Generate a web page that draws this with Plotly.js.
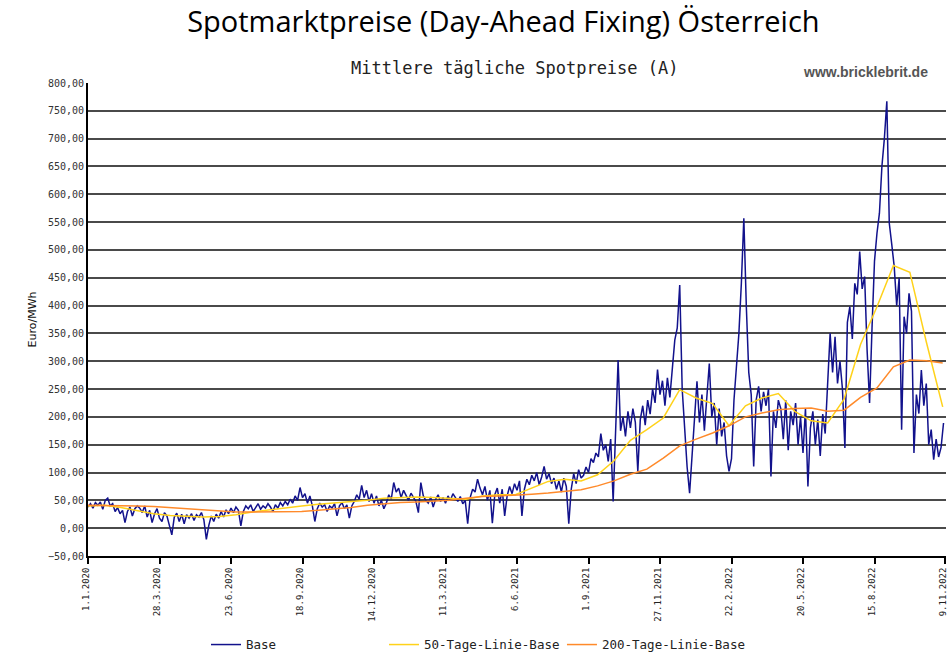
<!DOCTYPE html>
<html>
<head>
<meta charset="utf-8">
<script src="https://cdn.plot.ly/plotly-3.0.1.min.js"></script>
<style>html,body{margin:0;padding:0;background:#fff;}#chart{width:948px;height:653px;}</style>
</head>
<body>
<div id="chart"></div>
<script>
// ---- data ----
const startDate = '2020-01-01';
const baseStepDays = 3;
const maStepDays = 20;

// daily spot price (Base), sampled every 3 days, Euro/MWh
const basePrice = [
 38,44,36,46,41,47,34,50,54,40,44,30,37,26,32,10,30,38,22,35,40,
 36,28,40,20,32,10,26,35,18,12,28,22,6,-12,20,27,12,25,8,24,
 18,26,14,24,20,28,15,-20,5,22,12,25,18,30,20,33,26,36,28,38,
 32,4,30,40,35,42,30,38,44,34,40,36,44,38,30,42,36,46,40,48,
 42,52,45,58,50,73,55,62,45,58,40,12,35,45,38,42,30,40,36,44,
 22,40,46,35,42,18,40,48,60,52,77,55,68,48,62,45,58,40,50,35,
 45,60,52,82,65,72,55,68,60,50,63,55,48,28,82,58,50,45,56,38,
 52,60,48,55,45,58,50,62,55,48,57,44,50,8,55,70,65,88,72,60,
 75,50,68,9,60,72,45,70,22,58,75,62,80,68,85,22,70,88,78,95,
 85,100,78,92,111,88,98,80,90,70,85,65,90,75,8,70,98,80,105,90,
 95,110,100,125,118,135,128,170,140,150,120,160,48,180,302,175,200,165,210,180,
 215,190,102,195,220,185,230,205,250,225,285,240,265,220,270,235,290,338,360,437,
 250,170,110,63,130,200,264,190,240,175,230,296,200,225,150,215,165,190,130,102,
 125,230,290,350,440,557,400,280,240,111,230,255,210,245,220,250,93,210,180,230,
 215,160,230,140,210,185,225,150,200,135,215,75,180,210,150,195,130,205,170,250,
 350,280,344,260,300,250,144,370,398,340,440,420,497,430,452,320,225,360,480,530,
 566,650,700,767,548,510,470,400,450,177,380,350,422,390,135,240,206,284,220,260,
 150,177,123,160,128,145,189
];

// 50-day line, sampled every 20 days
const ma50 = [40,41,37,31,26,23,21,20,21,24,29,33,37,40,43,45,47,50,54,55,56,55,53,52,58,60,60,72,84,88,85,96,121,158,177,198,249,234,224,184,220,234,242,210,193,189,232,330,398,472,460,335,218];

// 200-day line, sampled every 20 days
const ma200 = [41,41,41,40,39,37,34,32,31,29,29,29,29,30,32,34,37,41,44,46,47,48,50,54,57,58,59,61,63,66,69,76,85,97,106,126,148,160,171,184,200,207,213,215,216,210,212,235,252,290,302,301,297];

const tickDates = ['2020-01-01','2020-03-28','2020-06-23','2020-09-18','2020-12-14','2021-03-11','2021-06-06','2021-09-01','2021-11-27','2022-02-22','2022-05-20','2022-08-15','2022-11-09'];
const tickLabels = ['1.1.2020','28.3.2020','23.6.2020','18.9.2020','14.12.2020','11.3.2021','6.6.2021','1.9.2021','27.11.2021','22.2.2022','20.5.2022','15.8.2022','9.11.2022'];

const seriesNames = ['Base','50-Tage-Linie-Base','200-Tage-Linie-Base'];

// ---- helpers ----
function datesFor(n, step){
  const t0 = Date.parse(startDate + 'T00:00:00Z');
  const out = [];
  for(let i=0;i<n;i++){ out.push(new Date(t0 + i*step*86400000).toISOString().slice(0,10)); }
  return out;
}

const mono = '"DejaVu Sans Mono", "Liberation Mono", monospace';

const traces = [
  {x: datesFor(basePrice.length, baseStepDays), y: basePrice, name: seriesNames[0], type:'scatter', mode:'lines',
   line:{color:'#12128c', width:1.5}, legend:'legend'},
  {x: datesFor(ma50.length, maStepDays), y: ma50, name: seriesNames[1], type:'scatter', mode:'lines',
   line:{color:'#ffd21a', width:1.5}, legend:'legend2'},
  {x: datesFor(ma200.length, maStepDays), y: ma200, name: seriesNames[2], type:'scatter', mode:'lines',
   line:{color:'#ff8a2a', width:1.5}, legend:'legend3'}
];

const legendFont = {family:mono, size:12.5, color:'#222'};
function legendAt(x){
  return {orientation:'h', x:x, xanchor:'left', y:-0.188, yanchor:'middle', font:legendFont, bgcolor:'rgba(0,0,0,0)'};
}

const layout = {
  width: 948, height: 653,
  paper_bgcolor:'#ffffff', plot_bgcolor:'#ffffff',
  margin:{l:88, r:2, t:83, b:97, autoexpand:false},
  separators: ', ',
  showlegend: true,
  title:{text:'Spotmarktpreise (Day-Ahead Fixing) Österreich', x:0.531, xref:'container', xanchor:'center',
         y:0.966, yref:'container', yanchor:'middle',
         font:{family:'"Open Sans", "Noto Sans", sans-serif', size:29, color:'#000'}},
  xaxis:{type:'date', range:['2020-01-01','2022-11-10'], tickmode:'array', tickvals: tickDates, ticktext: tickLabels,
         tickangle:-90, tickfont:{family:mono, size:9, color:'#222'}, showgrid:false, zeroline:false,
         showline:true, linecolor:'#000', linewidth:2, ticks:'outside', ticklen:6, tickwidth:2, tickcolor:'#000',
         ticklabelshift:-2, ticklabeloverflow:'allow', automargin:false, fixedrange:true},
  yaxis:{range:[-50,800], tick0:0, dtick:50, tickformat:'.2f', tickfont:{family:mono, size:10, color:'#333'},
         showgrid:true, gridcolor:'#4a4a4a', gridwidth:2, zeroline:false, showline:true, linecolor:'#000', linewidth:2,
         ticks:'', automargin:false,
         title:{text:'Euro/MWh', font:{family:'"DejaVu Sans", sans-serif', size:11, color:'#111'}, standoff:9}},
  legend: legendAt(0.1375),
  legend2: legendAt(0.345),
  legend3: legendAt(0.5524),
  annotations:[
    {text:'Mittlere tägliche Spotpreise (A)', xref:'paper', yref:'paper', x:0.498, y:1.032, xanchor:'center', yanchor:'middle',
     showarrow:false, font:{family:mono, size:17, color:'#222'}},
    {text:'<b>www.bricklebrit.de</b>', xref:'paper', yref:'paper', x:0.906, y:1.023, xanchor:'center', yanchor:'middle',
     showarrow:false, font:{family:'"Liberation Sans", Arial, sans-serif', size:14, color:'#555'}}
  ]
};

Plotly.newPlot('chart', traces, layout, {displayModeBar:false, staticPlot:true});
</script>
</body>
</html>
